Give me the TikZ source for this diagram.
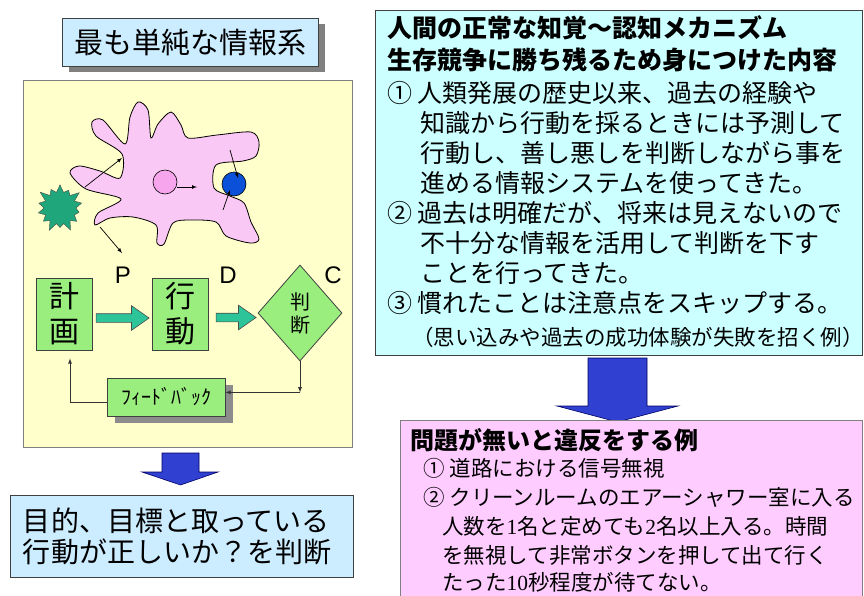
\documentclass[tikz,border=0pt]{standalone}
\usepackage{fontspec}
\setmainfont{Liberation Sans}
\newfontfamily\jpfont{Noto Sans CJK JP}
\newfontfamily\numfont{Liberation Serif}
\usetikzlibrary{arrows,calc,shapes.geometric,shapes.symbols,shapes.arrows,shadows}

\definecolor{panelyellow}{HTML}{FFFFCC}
\definecolor{titleblue}{HTML}{CCECFF}
\definecolor{cellpink}{HTML}{FAC8F4}
\definecolor{nucleus}{HTML}{F7A6EE}
\definecolor{vacuole}{HTML}{0A50D8}
\definecolor{burstgreen}{HTML}{1FA67A}
\definecolor{stepgreen}{HTML}{99EE7E}
\definecolor{flowteal}{HTML}{2EC49A}
\definecolor{bigblue}{HTML}{3040D0}
\definecolor{notecyan}{HTML}{CCFFFF}
\definecolor{notepink}{HTML}{FFCCFF}

\begin{document}
\begin{tikzpicture}[x=1pt,y=-1pt,
		frame/.style={draw=black!75, line width=0.8pt},
		stepbox/.style={frame, fill=stepgreen, minimum width=56pt, minimum height=72pt, inner sep=0pt, align=center, font=\jpfont\fontsize{30}{35}\selectfont},
		pdc/.style={inner sep=0pt, font=\fontsize{24}{24}\selectfont},
		flowarrow/.style={single arrow, draw=black!70, fill=flowteal, inner sep=4pt, single arrow head extend=8pt, single arrow tip angle=70, line width=0.6pt},
		link/.style={-latex, line width=0.8pt, black!80},
		thinarrow/.style={-latex, line width=0.7pt},
		textline/.style={anchor=west, inner sep=0pt, font=\jpfont\fontsize{25}{25}\selectfont},
		smallline/.style={textline, font=\jpfont\fontsize{21.5}{21.5}\selectfont},
		bigarrow/.style={draw=blue!40!black, fill=bigblue, line width=0.6pt}]

		\useasboundingbox (0,0) rectangle (864,595);

		% title and the yellow panel behind the cell
		\node [frame, fill=titleblue, minimum width=256pt, minimum height=48pt, font=\jpfont\fontsize{29}{29}\selectfont,
			drop shadow={shadow xshift=7pt, shadow yshift=-6pt, fill=black!50, opacity=1}] (title) at (190,42) {最も単純な情報系};
		\draw [draw=black!50, fill=panelyellow, line width=0.8pt] (23,80) rectangle (352,447);

		% amoeba outline
		\draw [fill=cellpink, line width=0.8pt] plot [smooth cycle, tension=0.5] coordinates {(95,225) (98,213) (121,199) (86,189) (70,173) (79,166) (100,171) (120,178) (122,154) (96,136) (92,122) (103,120) (125,144) (130,117) (138,102) (148,110) (151,138) (158,124) (171,112) (181,125) (188,138) (217,135) (251,132) (259,142) (256,156) (243,161) (216,165) (214,188) (230,196) (244,203) (251,222) (259,239) (250,243) (226,236) (216,222) (190,220) (173,223) (164,244) (157,243) (156,225) (133,217) (110,218)};
		\draw [fill=nucleus, line width=0.6pt] (165,182) circle (12pt);
		\draw [fill=vacuole, line width=0.6pt] (234,184) circle (12pt);

		% stimulus and reactions
		\node [starburst, starburst points=14, starburst point height=10pt, fill=burstgreen, draw=black!70, minimum size=52pt, inner sep=0pt] (stimulus) at (60,208) {};
		\draw [thinarrow] (177,187) -- (197,187);
		\draw [thinarrow] (85,187) -- (122,158);
		\draw [thinarrow] (230,150) -- (238,178);
		\draw [thinarrow] (223,210) -- (230,190);
		\draw [thinarrow] (100,227) -- (122,253);

		% P - D - C loop
		\node [pdc] (p) at (123,275) {P};
		\node [pdc] (d) at (228,275) {D};
		\node [pdc] (c) at (333,275) {C};

		\node [stepbox] (plan) at (64,314) {計\\画};
		\node [stepbox] (act) at (180,314) {行\\動};
		\node [diamond, frame, fill=stepgreen, minimum width=84pt, minimum height=96pt, inner sep=0pt, align=center,
			font=\jpfont\fontsize{20}{23}\selectfont] (judge) at (300,313) {判\\断};

		\node [flowarrow, minimum height=53pt] (go1) at ($(plan.east)!0.5!(act.west)+(-2.5,4)$) {};
		\node [flowarrow, minimum height=40pt] (go2) at ($(act.east)!0.5!(judge.west)+(0,4)$) {};

		\node [frame, fill=stepgreen, minimum width=118pt, minimum height=38pt, inner sep=0pt, font=\jpfont\fontsize{20}{20}\selectfont,
			drop shadow={shadow xshift=8pt, shadow yshift=-7pt, fill=black!45, opacity=1}] (fb) at (166,397) {ﾌｨｰﾄﾞﾊﾞｯｸ};

		\coordinate (turn) at ([yshift=-31pt]judge.south);
		\draw [link] (judge.south) -- (turn);
		\draw [link] (turn) -- (turn -| fb.east);
		\draw [link] ([yshift=-5pt]fb.west) -| ([xshift=6pt,yshift=-8pt]plan.south);

		% conclusion on the left
		\draw [bigarrow] (162,453) -- (199,453) -- (199,472) -- (218,472) -- (180.5,485) -- (142,472) -- (162,472) -- cycle;
		\node [frame, fill=titleblue, minimum width=343pt, minimum height=82pt, text width=317pt, inner xsep=13pt, align=left,
			font=\jpfont\fontsize{28}{31}\selectfont] (goal) at (181.5,536) {目的、目標と取っている\\行動が正しいか？を判断};

		% cognition notes
		\node [frame, fill=notecyan, minimum width=487pt, minimum height=345pt, inner sep=0pt, anchor=north west] (cognition) at (375,10) {};
		\node [textline, font=\jpfont\bfseries\fontsize{25}{25}\selectfont] (cog1) at (387,28) {人間の正常な知覚～認知メカニズム};
		\node [textline, font=\jpfont\bfseries\fontsize{25}{25}\selectfont] (cog2) at (387,60) {生存競争に勝ち残るため身につけた内容};
		\foreach \ly/\lx/\txt [count=\i] in {93/387/① 人類発展の歴史以来、過去の経験や, 123/420/知識から行動を採るときには予測して,
			153/420/行動し、善し悪しを判断しながら事を, 183/420/進める情報システムを使ってきた。, 213/387/② 過去は明確だが、将来は見えないので,
			243/420/不十分な情報を活用して判断を下す, 273/420/ことを行ってきた。, 303/387/③ 慣れたことは注意点をスキップする。}
			\node [textline] (cogitem\i) at (\lx,\ly) {\txt};
		\node [smallline] (cognote) at (412,337) {（思い込みや過去の成功体験が失敗を招く例）};

		% violation examples
		\draw [bigarrow] (588,358) -- (647,358) -- (647,406) -- (678,406) -- (617.5,422) -- (557,406) -- (588,406) -- cycle;
		\node [draw=black!50, line width=0.8pt, fill=notepink, minimum width=462pt, minimum height=190pt, inner sep=0pt, anchor=north west] (violation) at (400,420) {};
		\node [textline, font=\jpfont\bfseries\fontsize{24}{24}\selectfont] (viohead) at (410,440) {問題が無いと違反をする例};
		\foreach \ly/\lx/\txt [count=\i] in {468/423/① 道路における信号無視, 497/423/② クリーンルームのエアーシャワー室に入る,
			526/442/人数を{\numfont 1}名と定めても{\numfont 2}名以上入る。時間, 555/442/を無視して非常ボタンを押して出て行く,
			582/442/たった{\numfont 10}秒程度が待てない。}
			\node [smallline] (vioitem\i) at (\lx,\ly) {\txt};
	\end{tikzpicture}
\end{document}
